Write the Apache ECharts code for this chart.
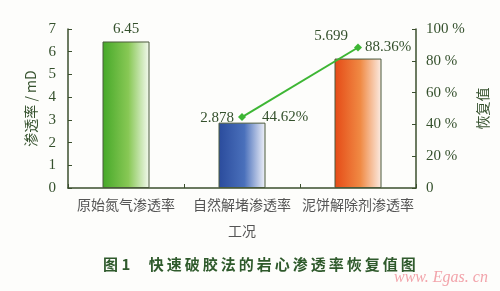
<!DOCTYPE html>
<html>
<head>
<meta charset="utf-8">
<script src="https://cdn.jsdelivr.net/npm/echarts@6/dist/echarts.min.js"></script>
<style>
  html, body { margin: 0; padding: 0; background: #fdfdfb; }
  #chart { width: 500px; height: 291px; }
</style>
</head>
<body>
<div id="chart"></div>
<script>
// Working conditions (x categories)
var categories = ['原始氮气渗透率', '自然解堵渗透率', '泥饼解除剂渗透率'];
// Permeability, mD (bars, left axis)
var permeability = [6.45, 2.878, 5.699];
// Recovery value, % (line, right axis)
var recovery = [null, 44.62, 88.36];
// Axis tick values
var leftTicks = { min: 0, max: 7, interval: 1 };
var rightTicks = { min: 0, max: 100, interval: 20 };

var axisColor = '#3b4f2e';
var textColor = '#34502c';
var serif = '"Liberation Serif", "DejaVu Serif", serif';
var cjk = '"Noto Sans CJK SC", sans-serif';

function grad(c0, c1, c2) {
  return new echarts.graphic.LinearGradient(0, 0, 1, 0, [
    { offset: 0, color: c0 },
    { offset: 0.55, color: c1 },
    { offset: 1, color: c2 }
  ]);
}
var barFills = [
  grad('#45a828', '#88c855', '#f4f9f0'),
  grad('#2a4b9c', '#4a70bb', '#f2f3fa'),
  grad('#e54a16', '#f08a44', '#fbece4')
];
// per-bar label offsets so labels clear the line markers
var barLabelOffsets = [[0, 0], [-25, 8], [-27, -10]];
// per-point label gaps for the recovery line
var lineLabelGaps = [0, 16, 3];

var chart = echarts.init(document.getElementById('chart'), null, { renderer: 'canvas' });

chart.setOption({
  backgroundColor: '#fdfdfb',
  animation: false,
  grid: { left: 68, right: 84, top: 29, bottom: 103 },
  xAxis: {
    type: 'category',
    data: categories,
    boundaryGap: true,
    name: '工况',
    nameLocation: 'middle',
    nameGap: 36,
    nameTextStyle: { fontFamily: cjk, fontSize: 14, color: '#555' },
    axisLine: { lineStyle: { color: axisColor, width: 1.5 } },
    axisTick: { show: true, inside: true, length: 4, lineStyle: { color: axisColor } },
    axisLabel: { fontFamily: cjk, fontSize: 14, color: '#555', margin: 10, interval: 0 }
  },
  yAxis: [
    {
      type: 'value',
      min: leftTicks.min, max: leftTicks.max, interval: leftTicks.interval,
      name: '渗透率 / mD',
      nameLocation: 'middle',
      nameRotate: 90,
      nameGap: 26,
      nameTextStyle: { fontFamily: cjk, fontSize: 14, color: textColor },
      axisLine: { show: true, lineStyle: { color: axisColor, width: 1.5 } },
      axisTick: { show: true, inside: true, length: 4, lineStyle: { color: axisColor } },
      axisLabel: { fontFamily: serif, fontSize: 15, color: textColor, margin: 12 },
      splitLine: { show: false }
    },
    {
      type: 'value',
      position: 'right',
      min: rightTicks.min, max: rightTicks.max, interval: rightTicks.interval,
      name: '恢复值',
      nameLocation: 'middle',
      nameRotate: 90,
      nameGap: 52,
      nameTextStyle: { fontFamily: cjk, fontSize: 14, color: textColor },
      axisLine: { show: true, lineStyle: { color: axisColor, width: 1.5 } },
      axisTick: { show: true, inside: true, length: 4, lineStyle: { color: axisColor } },
      axisLabel: {
        fontFamily: serif, fontSize: 15, color: textColor, margin: 10,
        formatter: function (v) { return v === 0 ? '0' : v + ' %'; }
      },
      splitLine: { show: false }
    }
  ],
  series: [
    {
      type: 'bar',
      yAxisIndex: 0,
      barWidth: 47,
      data: permeability.map(function (v, i) {
        return {
          value: v,
          itemStyle: { color: barFills[i], borderColor: '#4b5a3c', borderWidth: 1 },
          label: { offset: barLabelOffsets[i] }
        };
      }),
      label: {
        show: true,
        position: 'top',
        distance: 5,
        fontFamily: serif,
        fontSize: 15,
        color: textColor
      }
    },
    {
      type: 'line',
      yAxisIndex: 1,
      data: recovery.map(function (v, i) {
        return { value: v, label: { distance: lineLabelGaps[i] } };
      }),
      connectNulls: false,
      symbol: 'diamond',
      symbolSize: 8,
      lineStyle: { color: '#3db634', width: 2 },
      itemStyle: { color: '#3db634' },
      label: {
        show: true,
        position: 'right',
        fontFamily: serif,
        fontSize: 15,
        color: textColor,
        formatter: '{c}%'
      },
      z: 5
    }
  ],
  graphic: [
    {
      type: 'text',
      left: 103,
      top: 257,
      style: {
        text: '图 1　 快\u2009速\u2009破\u2009胶\u2009法\u2009的\u2009岩\u2009心\u2009渗\u2009透\u2009率\u2009恢\u2009复\u2009值\u2009图',
        font: 'bold 15px "Noto Sans CJK SC", sans-serif',
        fill: '#2f5a2c'
      }
    },
    {
      type: 'text',
      left: 394,
      top: 270,
      style: {
        text: 'www. Egas. cn',
        font: 'italic 16px "Liberation Serif", serif',
        fill: '#f2a4ab'
      }
    }
  ]
});
</script>
</body>
</html>
